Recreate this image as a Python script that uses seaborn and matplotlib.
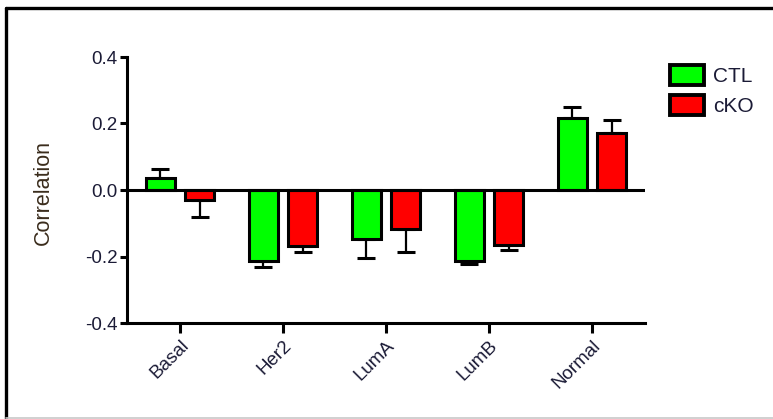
import matplotlib
matplotlib.use("Agg")
import matplotlib.pyplot as plt
import matplotlib.patches as mpatches
from matplotlib.lines import Line2D
import numpy as np
import pandas as pd
import seaborn as sns

# Correlation of each subtype signature, per genotype
subtypes = ["Basal", "Her2", "LumA", "LumB", "Normal"]
groups = ["CTL", "cKO"]
ctl_mean = [0.037, -0.214, -0.147, -0.215, 0.217]
cko_mean = [-0.030, -0.167, -0.118, -0.165, 0.170]
ctl_sem = [0.025, 0.017, 0.057, 0.007, 0.033]
cko_sem = [0.050, 0.020, 0.067, 0.015, 0.040]
yticks = [-0.4, -0.2, 0.0, 0.2, 0.4]
colors = {"CTL": "#00ff00", "cKO": "#ff0000"}

df = pd.DataFrame({
    "subtype": subtypes * 2,
    "group": ["CTL"] * len(subtypes) + ["cKO"] * len(subtypes),
    "corr": ctl_mean + cko_mean,
})
sems = {"CTL": ctl_sem, "cKO": cko_sem}
means = {"CTL": ctl_mean, "cKO": cko_mean}

sns.set_theme(style="white")
plt.rcParams["font.family"] = ["Liberation Sans", "DejaVu Sans"]

W, H = 773, 419
fig = plt.figure(figsize=(W / 100, H / 100), dpi=100)
ax = fig.add_axes([127 / W, 1 - 323 / H, (645 - 127) / W, (323 - 57) / H])

edge_lw = 2.2
sns.barplot(data=df, x="subtype", y="corr", hue="group", order=subtypes,
            hue_order=groups, palette=colors, saturation=1, width=0.76,
            gap=0.26, errorbar=None, edgecolor="black", linewidth=edge_lw,
            legend=False, ax=ax, zorder=3)

# One-sided SEM whiskers, pointing away from zero
for cont, g in zip(ax.containers, groups):
    for bar, m, e in zip(cont, means[g], sems[g]):
        xc = bar.get_x() + bar.get_width() / 2
        lower = [e] if m < 0 else [0]
        upper = [e] if m >= 0 else [0]
        ax.errorbar(xc, m, yerr=[lower, upper], fmt="none", ecolor="black",
                    elinewidth=1.6, capsize=6.5, capthick=2.2, zorder=2)

ax.axhline(0, color="black", lw=2.2, zorder=4)

ax.set_ylim(-0.4, 0.4)
ax.set_xlim(-0.515, 4.515)
ax.set_yticks(yticks)
ax.set_yticklabels([f"{v:.1f}" for v in yticks])
ax.set_xlabel("")
ax.set_ylabel("Correlation", fontsize=15.5, color="#3a2c1c")
ax.yaxis.set_label_coords((54 - 127) / (645 - 127), 0.49)

for side in ["top", "right"]:
    ax.spines[side].set_visible(False)
for side in ["left", "bottom"]:
    ax.spines[side].set_linewidth(2.2)
    ax.spines[side].set_color("black")

ax.tick_params(axis="y", direction="out", length=5, width=2.2, pad=2,
               labelsize=13.5, labelcolor="#1b1b36", left=True, color="black")
ax.tick_params(axis="x", direction="out", length=7, width=2.2, pad=3,
               labelsize=13.5, labelcolor="#1b1b36", bottom=True, color="black")
for lab in ax.get_xticklabels():
    lab.set_rotation(45)
    lab.set_ha("right")
    lab.set_va("top")
    lab.set_rotation_mode("anchor")

handles = [mpatches.Patch(facecolor=colors[g], edgecolor="black",
                          linewidth=2.8, label=g) for g in groups]
fig.legend(handles=handles, loc="upper left",
           bbox_to_anchor=(655 / W, 1 - 50 / H), frameon=False,
           fontsize=15, handlelength=1.65, handleheight=1.1,
           handletextpad=0.45, labelspacing=0.45, borderpad=0.2,
           labelcolor="#1b1b36")

# Outer frame around the panel
fig.add_artist(Line2D([6 / W, 1.0], [1 - 8.5 / H, 1 - 8.5 / H],
                      transform=fig.transFigure, color="black", lw=2.4))
fig.add_artist(Line2D([6.5 / W, 6.5 / W], [1 - 8.5 / H, 0.0],
                      transform=fig.transFigure, color="black", lw=2.4))
fig.add_artist(Line2D([6 / W, 1.0], [1 - 417.5 / H, 1 - 417.5 / H],
                      transform=fig.transFigure, color="#c8c8c8", lw=1.2))

fig.savefig("out.png", dpi=100)
